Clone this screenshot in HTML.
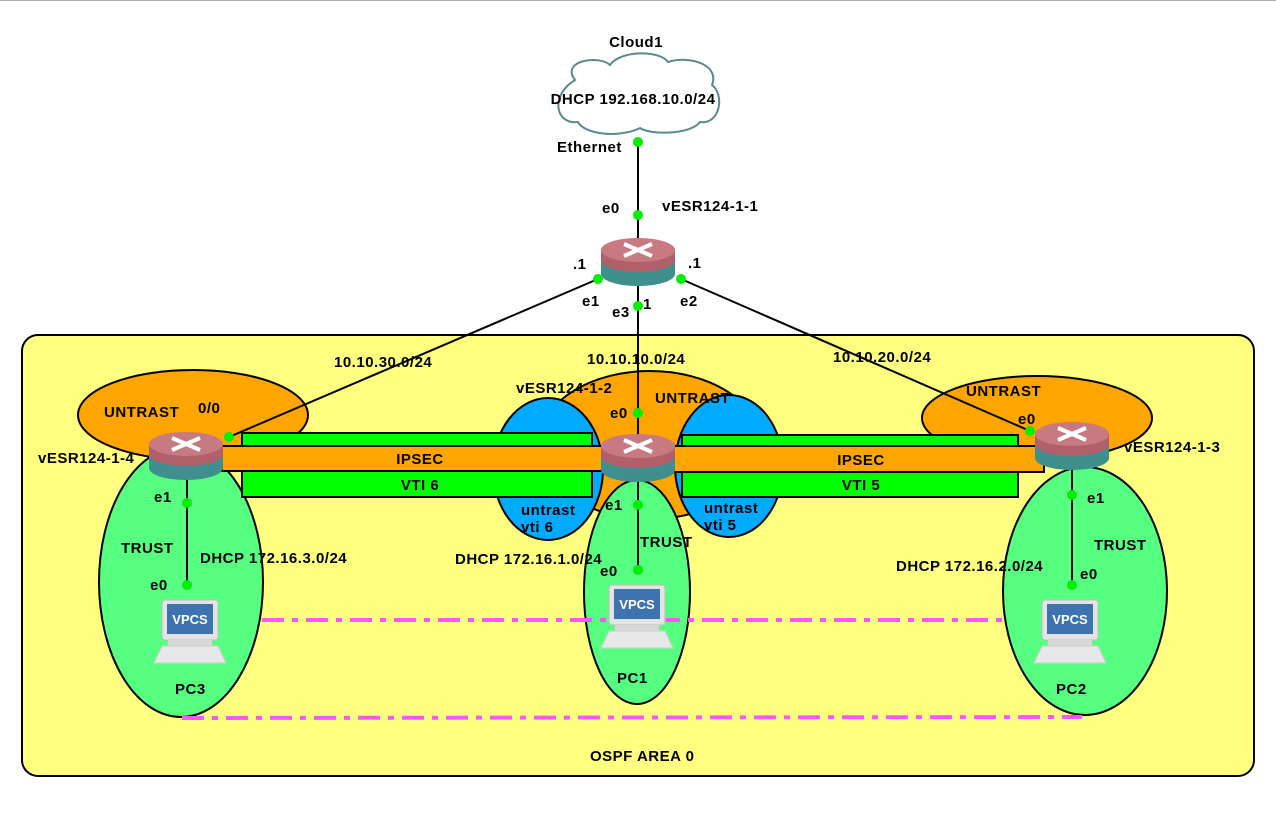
<!DOCTYPE html>
<html><head><meta charset="utf-8"><style>
html,body{margin:0;padding:0;background:#fff}
svg{display:block}
text{font-family:"Liberation Sans",sans-serif;font-weight:bold;font-size:15px;letter-spacing:0.5px;fill:#000}
</style></head><body>
<svg width="1276" height="817" viewBox="0 0 1276 817" xmlns="http://www.w3.org/2000/svg">
<defs>
<g id="rt">
  <path d="M-37,-6 L-37,12 A37,12 0 0 0 37,12 L37,-6 Z" fill="#3f8f8f"/>
  <path d="M-37,-12 L-37,-2 A37,12 0 0 0 37,-2 L37,-12 Z" fill="#b0606a"/>
  <ellipse cx="0" cy="-12" rx="37" ry="12" fill="#c77a82"/>
  <path d="M-14,-18 L14,-6 M14,-18 L-14,-6" stroke="#fff" stroke-width="4"/>
</g>
<g id="pc">
  <rect x="-28" y="-30" width="56" height="40" rx="3" fill="#e4e4e4" stroke="#bbb"/>
  <rect x="-23" y="-26" width="46" height="30" fill="#3f73b0"/>
  <text x="0" y="-6" text-anchor="middle" style="fill:#fff;font-size:13px;letter-spacing:0">VPCS</text>
  <rect x="-22" y="10" width="44" height="6" fill="#d8d8d8"/>
  <path d="M-28,16 L28,16 L36,33 L-36,33 Z" fill="#e8e8e8" stroke="#ccc"/>
</g>
</defs>
<line x1="0" y1="0.5" x2="1276" y2="0.5" stroke="#aaa"/>
<rect x="22" y="335" width="1232" height="441" rx="16" fill="#ffff80" stroke="#000" stroke-width="2"/>
<path d="M575,80 C560,60 600,55 610,65 C620,50 660,50 668,62 C690,55 720,65 712,85 C725,95 720,125 700,122 C690,135 650,135 640,128 C620,138 585,135 578,122 C555,125 550,95 575,80 Z" fill="#fff" stroke="#5a8a8a" stroke-width="2"/>
<text x="636" y="47" text-anchor="middle">Cloud1</text>
<text x="633" y="104" text-anchor="middle">DHCP 192.168.10.0/24</text>
<ellipse cx="193" cy="415" rx="115" ry="45" fill="#ffa500" stroke="#000" stroke-width="2"/>
<ellipse cx="650" cy="445" rx="112" ry="74" fill="#ffa500" stroke="#000" stroke-width="2"/>
<ellipse cx="1037" cy="418" rx="115" ry="42" fill="#ffa500" stroke="#000" stroke-width="2"/>
<ellipse cx="548" cy="469" rx="55" ry="71" fill="#00aaff" stroke="#000" stroke-width="2"/>
<ellipse cx="729" cy="466" rx="54" ry="71" fill="#00aaff" stroke="#000" stroke-width="2"/>
<ellipse cx="181" cy="582" rx="82" ry="135" fill="#57ff80" stroke="#000" stroke-width="2"/>
<ellipse cx="637" cy="592" rx="53" ry="112" fill="#57ff80" stroke="#000" stroke-width="2"/>
<ellipse cx="1085" cy="591" rx="82" ry="124" fill="#57ff80" stroke="#000" stroke-width="2"/>
<line x1="262" y1="620" x2="1003" y2="620" stroke="#ff55ff" stroke-width="4" stroke-dasharray="22,8,6,8"/>
<line x1="182" y1="718" x2="1082" y2="717" stroke="#ff55ff" stroke-width="4" stroke-dasharray="22,8,6,8"/>
<g stroke="#000" stroke-width="2">
<line x1="638" y1="142" x2="638" y2="240"/>
<line x1="598" y1="279" x2="229" y2="437"/>
<line x1="681" y1="279" x2="1030" y2="431"/>
<line x1="638" y1="280" x2="638" y2="440"/>
<line x1="187" y1="470" x2="187" y2="585"/>
<line x1="638" y1="470" x2="638" y2="570"/>
<line x1="1072" y1="460" x2="1072" y2="585"/>
</g>
<rect x="242" y="433" width="350" height="64" fill="#00ff00" stroke="#000" stroke-width="2"/>
<rect x="682" y="435" width="336" height="62" fill="#00ff00" stroke="#000" stroke-width="2"/>
<rect x="222" y="446" width="380" height="25" fill="#ffa500" stroke="#000" stroke-width="2"/>
<rect x="664" y="446" width="380" height="26" fill="#ffa500" stroke="#000" stroke-width="2"/>
<text x="420" y="464" text-anchor="middle">IPSEC</text>
<text x="420" y="490" text-anchor="middle">VTI 6</text>
<text x="861" y="465" text-anchor="middle">IPSEC</text>
<text x="861" y="490" text-anchor="middle">VTI 5</text>
<use href="#rt" x="638" y="262"/>
<use href="#rt" x="186" y="456"/>
<use href="#rt" x="638" y="458"/>
<use href="#rt" x="1072" y="446"/>
<use href="#pc" x="190" y="630"/>
<use href="#pc" x="637" y="615"/>
<use href="#pc" x="1070" y="630"/>
<g fill="#00ee00">
<circle cx="638" cy="142" r="5"/><circle cx="638" cy="215" r="5"/>
<circle cx="598" cy="279" r="5"/><circle cx="681" cy="279" r="5"/><circle cx="638" cy="306" r="5"/>
<circle cx="638" cy="413" r="5"/><circle cx="229" cy="437" r="5"/><circle cx="1030" cy="431" r="5"/>
<circle cx="187" cy="503" r="5"/><circle cx="187" cy="585" r="5"/>
<circle cx="638" cy="505" r="5"/><circle cx="638" cy="570" r="5"/>
<circle cx="1072" cy="495" r="5"/><circle cx="1072" cy="585" r="5"/>
</g>
<text x="557" y="152">Ethernet</text>
<text x="602" y="213">e0</text>
<text x="662" y="211">vESR124-1-1</text>
<text x="573" y="269">.1</text>
<text x="688" y="268">.1</text>
<text x="582" y="306">e1</text>
<text x="680" y="306">e2</text>
<text x="612" y="317">e3</text>
<text x="643" y="309">1</text>
<text x="334" y="367">10.10.30.0/24</text>
<text x="587" y="364">10.10.10.0/24</text>
<text x="833" y="362">10.10.20.0/24</text>
<text x="104" y="417">UNTRAST</text>
<text x="198" y="413">0/0</text>
<text x="38" y="463">vESR124-1-4</text>
<text x="516" y="393">vESR124-1-2</text>
<text x="655" y="403">UNTRAST</text>
<text x="610" y="418">e0</text>
<text x="966" y="396">UNTRAST</text>
<text x="1018" y="424">e0</text>
<text x="1124" y="452">vESR124-1-3</text>
<text x="521" y="515">untrast</text>
<text x="521" y="532">vti 6</text>
<text x="704" y="513">untrast</text>
<text x="704" y="530">vti 5</text>
<text x="154" y="502">e1</text>
<text x="121" y="553">TRUST</text>
<text x="200" y="563">DHCP 172.16.3.0/24</text>
<text x="150" y="590">e0</text>
<text x="175" y="694">PC3</text>
<text x="605" y="510">e1</text>
<text x="640" y="547">TRUST</text>
<text x="455" y="564">DHCP 172.16.1.0/24</text>
<text x="600" y="576">e0</text>
<text x="617" y="683">PC1</text>
<text x="1087" y="503">e1</text>
<text x="1094" y="550">TRUST</text>
<text x="896" y="571">DHCP 172.16.2.0/24</text>
<text x="1080" y="579">e0</text>
<text x="1056" y="694">PC2</text>
<text x="590" y="761">OSPF AREA 0</text>
</svg>
</body></html>
